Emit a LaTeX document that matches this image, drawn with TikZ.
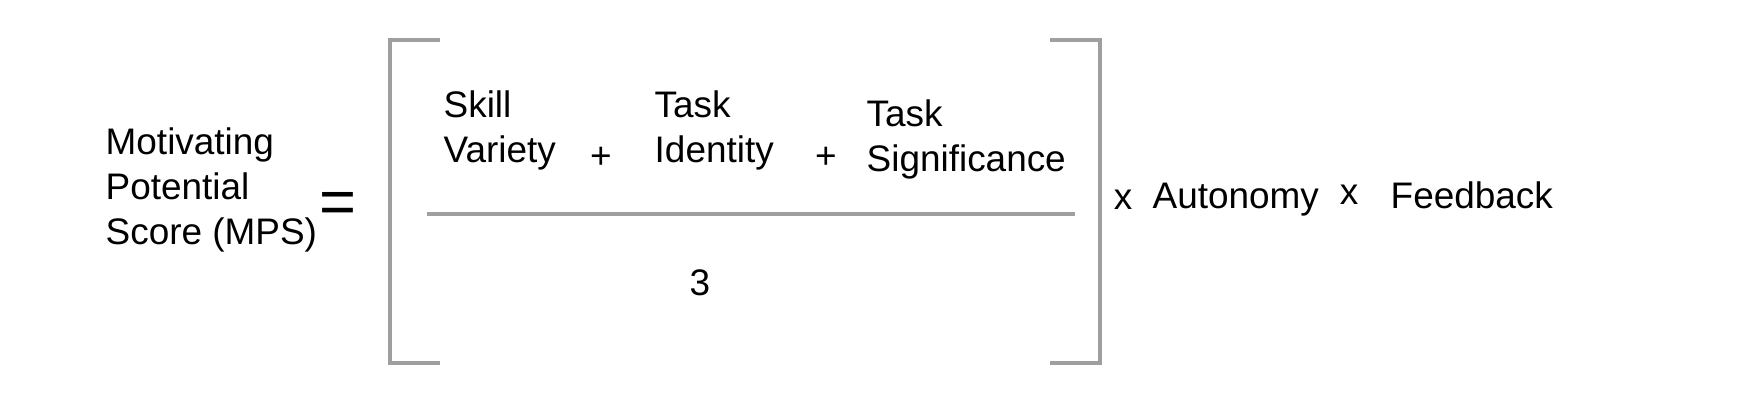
\documentclass[tikz,border=0pt]{standalone}
\usepackage{fontspec}
\setmainfont{Liberation Sans}
\usetikzlibrary{positioning}
\tikzset{
  term/.style={anchor=west, align=left, inner sep=0pt, font=\fontsize{10.5}{12.8}\selectfont},
  op/.style={inner sep=0pt, font=\fontsize{10.5}{12.8}\selectfont},
  bracket/.style={draw=gray!75, line width=1.1pt}
}
\begin{document}
\begin{tikzpicture}[x=0.01cm, y=-0.01cm]
  \useasboundingbox (0,0) rectangle (1757,419);
  % left side
  \node[term] (mps) at (105,190) {Motivating\\Potential\\Score (MPS)};
  \node[op, font=\fontsize{18}{18}\selectfont] (eq) at (338,208) {=};
  % brackets
  \coordinate (lt) at (440,40);
  \coordinate (lb) at (440,363);
  \coordinate (rt) at (1050,40);
  \coordinate (rb) at (1050,363);
  \draw[bracket] (lt) -- (390,40) -- (390,363) -- (lb);
  \draw[bracket] (rt) -- (1100,40) -- (1100,363) -- (rb);
  % fraction
  \coordinate (fl) at (427,214);
  \coordinate (fr) at (1075,214);
  \draw[bracket] (fl) -- (fr);
  \node[term] (skill) at (443,130) {Skill\\Variety};
  \node[op] (plusa) at (601,158) {+};
  \node[term] (ident) at (654,130) {Task\\Identity};
  \node[op] (plusb) at (826,158) {+};
  \node[term] (signif) at (866,139) {Task\\Significance};
  \node[op] (three) at (700,283) {3};
  % right side
  \node[op] (xa) at (1123,200) {x};
  \node[term] (auto) at (1152,200) {Autonomy};
  \node[op] (xb) at (1349,195) {x};
  \node[term] (feed) at (1390,195) {Feedback};
\end{tikzpicture}
\end{document}
